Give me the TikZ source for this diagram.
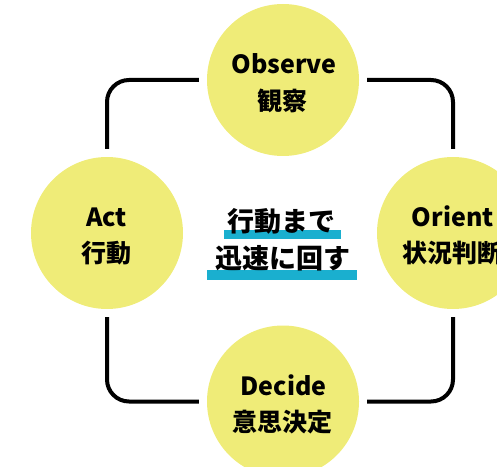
\documentclass[tikz,border=0pt]{standalone}
\usepackage{fontspec}
\setmainfont{Noto Sans CJK JP}
\definecolor{yel}{HTML}{EFEC78}
\definecolor{cyb}{HTML}{1AAFCF}
\begin{document}
\begin{tikzpicture}[x=1pt,y=1pt,
  circ/.style={circle,fill=yel,minimum size=152pt,inner sep=0pt},
  lbl/.style={anchor=base,inner sep=0pt,font=\fontsize{25}{25}\selectfont\bfseries},
  conn/.style={line width=4pt,rounded corners=22pt},
  mid/.style={anchor=base,inner sep=0pt,font=\fontsize{27}{27}\selectfont\bfseries},
  bar/.style={fill=cyb}]
\useasboundingbox (0,0) rectangle (497,466);
\clip (0,0) rectangle (497,466);
% circles
\node[circ] (obs) at (283,386) {};
\node[circ] (act) at (107,233) {};
\node[circ] (ori) at (453,233) {};
\node[circ] (dec) at (283,64.5) {};
% connectors
\draw[conn] ([xshift=-8pt]obs.west) -| ([yshift=8pt]act.north);
\draw[conn] ([xshift=8pt]obs.east) -| ([yshift=8pt]ori.north);
\draw[conn] ([yshift=-8pt]act.south) |- ([xshift=-8pt]dec.west);
\draw[conn] ([yshift=-8pt]ori.south) |- ([xshift=8pt]dec.east);
% labels
\node[lbl] (obsE) at (284,392.7) {Observe};
\node[lbl] (obsJ) at (282,355) {観察};
\node[lbl] (actE) at (106.5,239.3) {Act};
\node[lbl] (actJ) at (106.7,203.5) {行動};
\node[lbl] (oriE) at (452.8,239.3) {Orient};
\node[lbl] (oriJ) at (452,203.5) {状況判断};
\node[lbl] (decE) at (283.7,70.3) {Decide};
\node[lbl] (decJ) at (282.8,35) {意思決定};
% centre text
\fill[bar] (224,226.7) rectangle (341,236);
\fill[bar] (206.7,186) rectangle (356.7,196);
\node[mid] (m1) at (281.5,234) {行動まで};
\node[mid] (m2) at (282.5,197.5) {迅速に回す};
\end{tikzpicture}
\end{document}
